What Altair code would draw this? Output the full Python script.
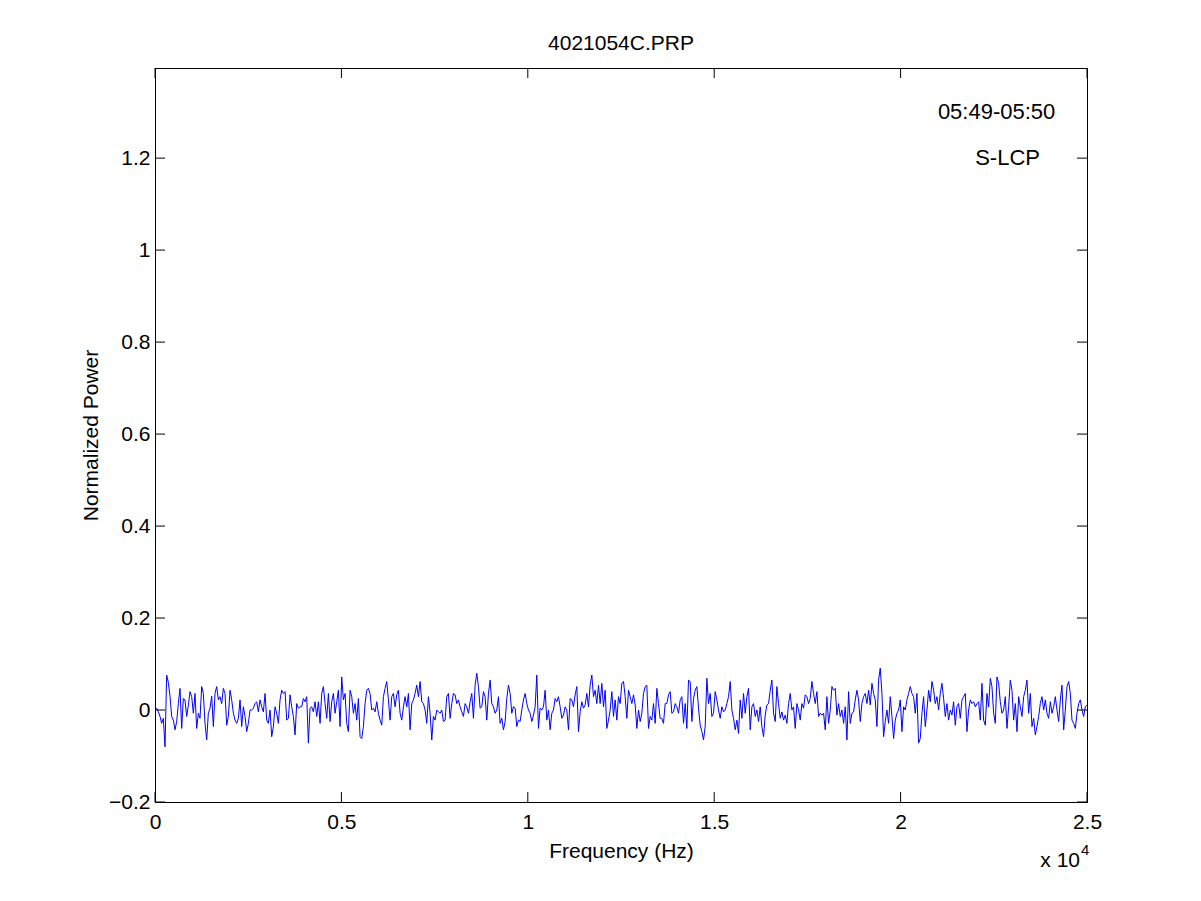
import altair as alt
import numpy as np
import pandas as pd

# Normalized power, left to right (six consecutive segments)
seg1 = [0.000, 0.004, -0.004, -0.014, -0.029, -0.018, -0.080, 0.076, 0.060, 0.030,
        -0.014, -0.022, -0.043, -0.025, 0.014, 0.047, -0.040, 0.025, 0.022, -0.014,
        0.010, 0.040, 0.029, -0.007, 0.036, -0.040, -0.007, -0.018, 0.051, 0.036,
        -0.029, -0.065, -0.007, 0.004, 0.030, -0.036, 0.036, 0.051, 0.022, 0.029,
        0.014, 0.047, 0.036, -0.033, -0.014, 0.043, 0.022, -0.007, -0.022, -0.029,
        -0.018, 0.022, -0.036, 0.007, -0.014, -0.047, -0.029, 0.000, 0.000, 0.004,
        0.014, 0.018, -0.004, 0.022, 0.007, -0.004, 0.036, -0.022, -0.029, 0.000,
        -0.058, -0.036, 0.007, -0.007, -0.029, 0.022, 0.043, 0.036, 0.040, -0.022,
        -0.018, 0.033, 0.007, -0.014, -0.054, 0.014, 0.004, 0.007, 0.007, 0.025,
        0.018, 0.029, -0.072]
seg2 = [0.004, 0.007, -0.004, 0.018, -0.014, 0.018, -0.029, 0.036, 0.051, 0.014,
        -0.018, 0.036, -0.025, 0.018, 0.036, -0.007, 0.018, 0.043, -0.036, 0.072,
        0.022, 0.036, -0.029, -0.047, 0.043, 0.029, -0.007, 0.014, -0.022, 0.025,
        -0.058, -0.062, -0.036, 0.014, 0.043, 0.047, 0.036, 0.000, 0.004, -0.004,
        0.018, -0.007, -0.022, -0.033, 0.029, 0.047, 0.062, 0.022, -0.022, 0.029,
        0.036, 0.007, 0.033, 0.043, -0.007, -0.022, 0.007, 0.029, 0.007, 0.036,
        -0.043, 0.014, 0.022, 0.036, 0.054, 0.029, 0.062, 0.018, 0.014, 0.000,
        -0.029, 0.029, -0.007, -0.065, -0.014, -0.022, 0.000, -0.004, -0.007, 0.000,
        -0.025, -0.022, 0.029, 0.036, -0.018, 0.014, 0.036, 0.033, 0.014, 0.022,
        0.007, -0.004, -0.014]
seg3 = [0.014, 0.007, -0.007, 0.018, 0.036, -0.018, 0.054, 0.080, 0.051, 0.004,
        0.007, 0.040, 0.029, -0.022, 0.036, 0.065, 0.014, 0.007, -0.007, 0.000,
        0.029, -0.029, -0.018, -0.043, -0.025, 0.025, 0.054, 0.036, -0.007, 0.007,
        0.004, -0.036, -0.022, -0.025, 0.000, 0.022, 0.036, 0.014, 0.000, -0.007,
        -0.025, -0.011, 0.007, 0.076, -0.040, 0.004, 0.000, 0.007, 0.043, -0.022,
        0.000, -0.043, -0.007, 0.000, 0.025, 0.018, 0.029, 0.007, -0.018, -0.011,
        0.007, 0.000, -0.043, 0.025, 0.022, 0.007, 0.033, 0.051, -0.047, -0.004,
        0.018, 0.004, 0.011, 0.036, 0.007, 0.054, 0.076, 0.029, 0.043, 0.014,
        0.054, 0.014, 0.058, 0.007, 0.043, -0.040, -0.022, 0.000, 0.040, -0.014,
        0.022, -0.022, 0.029]
seg4 = [0.014, 0.058, 0.062, 0.029, -0.018, 0.043, 0.029, 0.014, 0.033, 0.011,
        -0.040, 0.000, -0.025, -0.007, 0.036, 0.051, 0.054, -0.040, -0.014, -0.022,
        0.014, -0.029, 0.047, 0.014, -0.018, -0.018, -0.029, 0.014, 0.014, 0.033,
        0.040, -0.007, -0.004, 0.014, 0.007, -0.007, 0.022, 0.029, -0.029, 0.014,
        -0.040, 0.065, 0.062, -0.025, 0.025, 0.043, 0.051, 0.004, -0.033, -0.047,
        -0.065, -0.036, 0.069, 0.014, 0.036, -0.014, -0.007, 0.040, 0.022, 0.000,
        -0.018, 0.007, -0.004, 0.000, 0.014, 0.029, 0.062, 0.000, -0.018, -0.043,
        -0.022, -0.051, 0.022, -0.018, 0.036, -0.007, 0.029, 0.047, -0.043, 0.007,
        0.014, -0.014, 0.000, -0.025, 0.007, -0.036, -0.058, -0.011, 0.011, 0.014,
        0.043, 0.065, -0.007]
seg5 = [-0.025, 0.051, 0.014, -0.018, -0.004, -0.022, -0.011, -0.029, 0.014, 0.036,
        0.000, 0.007, -0.040, 0.014, 0.000, -0.022, 0.014, 0.004, 0.033, 0.029,
        0.014, 0.025, 0.062, 0.036, 0.014, 0.040, -0.014, -0.007, -0.011, -0.007,
        -0.043, 0.029, -0.029, 0.000, 0.051, 0.043, 0.047, -0.011, 0.014, -0.014,
        0.000, -0.029, 0.007, -0.065, 0.040, -0.029, -0.007, -0.004, 0.022, 0.043,
        0.022, -0.025, 0.014, 0.029, 0.036, 0.014, 0.043, 0.011, 0.058, 0.036,
        0.022, -0.036, 0.065, 0.091, 0.036, -0.058, -0.025, 0.000, -0.029, 0.029,
        -0.014, -0.062, -0.022, -0.007, 0.000, 0.022, -0.047, 0.007, 0.000, 0.022,
        0.036, 0.051, 0.036, 0.029, -0.007, 0.036, -0.072, -0.062, -0.007, 0.029,
        -0.036, 0.000, 0.043]
seg6 = [0.018, 0.062, 0.043, 0.014, 0.029, 0.000, 0.036, 0.058, 0.025, -0.014,
        0.014, -0.022, 0.000, -0.011, 0.018, -0.033, 0.007, 0.014, -0.018, 0.022,
        0.029, 0.036, -0.047, 0.000, 0.022, 0.014, 0.018, 0.007, 0.014, 0.018,
        -0.022, 0.058, -0.022, -0.033, 0.036, 0.007, 0.069, 0.051, -0.007, -0.029,
        0.072, 0.058, 0.018, -0.007, 0.000, 0.029, -0.040, 0.007, 0.065, 0.043,
        -0.022, 0.014, -0.047, 0.029, 0.007, -0.014, 0.029, 0.043, 0.065, -0.007,
        0.036, -0.036, -0.018, -0.054, -0.036, -0.014, 0.014, 0.029, 0.000, 0.022,
        -0.007, -0.018, 0.018, -0.007, 0.007, 0.029, 0.000, -0.025, 0.022, 0.054,
        -0.043, 0.000, 0.051, 0.062, 0.036, -0.022, -0.029, -0.040, -0.007, 0.014,
        0.022, 0.000, -0.014, 0.007, 0.011]

power = seg1 + seg2 + seg3 + seg4 + seg5 + seg6
freq = np.linspace(0, 25000, len(power))

x_ticks = [0, 5000, 10000, 15000, 20000, 25000]
y_ticks = [-0.2, 0, 0.2, 0.4, 0.6, 0.8, 1.0, 1.2]

notes_text = ["05:49-05:50", "S-LCP"]
notes_x = [21000, 22000]
notes_y = [1.3, 1.2]

FONT = "Liberation Sans"
FS = 21
W, H = 932, 734
TICK = 10

df = pd.DataFrame({"f": freq, "p": power})
xt = pd.DataFrame({"v": x_ticks})
yt = pd.DataFrame({"v": y_ticks})
notes = pd.DataFrame({"t": notes_text, "x": notes_x, "y": notes_y})

xscale = alt.Scale(domain=[0, 25000], nice=False, zero=False)
yscale = alt.Scale(domain=[-0.2, 1.396], nice=False, zero=False)

line = alt.Chart(df).mark_line(color="#0000FF", strokeWidth=1, clip=True).encode(
    x=alt.X("f:Q", scale=xscale, title="Frequency (Hz)",
            axis=alt.Axis(values=x_ticks, labelExpr="format(datum.value/10000, '.1~f')",
                          tickSize=0, labelPadding=9, titlePadding=8, grid=False,
                          labelFlush=False, labelFont=FONT, labelFontSize=FS,
                          labelColor="black", titleFont=FONT, titleFontSize=FS,
                          titleFontWeight="normal", titleColor="black",
                          domainColor="black", domainWidth=1)),
    y=alt.Y("p:Q", scale=yscale, title="Normalized Power",
            axis=alt.Axis(values=y_ticks, format=".1~f", tickSize=0, labelPadding=5,
                          titlePadding=7, grid=False, labelFlush=False,
                          labelFont=FONT, labelFontSize=FS, labelColor="black",
                          titleFont=FONT, titleFontSize=FS, titleFontWeight="normal",
                          titleColor="black", domainColor="black", domainWidth=1)),
)

ytick_left = alt.Chart(yt).mark_rule(color="black", strokeWidth=1).encode(
    y=alt.Y("v:Q", scale=yscale), x=alt.value(0), x2=alt.value(TICK))
ytick_right = alt.Chart(yt).mark_rule(color="black", strokeWidth=1).encode(
    y=alt.Y("v:Q", scale=yscale), x=alt.value(W - TICK), x2=alt.value(W))
xtick_bottom = alt.Chart(xt).mark_rule(color="black", strokeWidth=1).encode(
    x=alt.X("v:Q", scale=xscale), y=alt.value(H), y2=alt.value(H - TICK))
xtick_top = alt.Chart(xt).mark_rule(color="black", strokeWidth=1).encode(
    x=alt.X("v:Q", scale=xscale), y=alt.value(0), y2=alt.value(TICK))

note_marks = alt.Chart(notes).mark_text(font=FONT, fontSize=22, align="left",
                                        baseline="middle", color="black").encode(
    x=alt.X("x:Q", scale=xscale), y=alt.Y("y:Q", scale=yscale), text="t:N")

exp_base = alt.Chart(pd.DataFrame({"t": ["x 10"]})).mark_text(
    font=FONT, fontSize=FS, align="right", baseline="alphabetic", color="black").encode(
    x=alt.value(W - 7), y=alt.value(H + 65), text="t:N")
exp_pow = alt.Chart(pd.DataFrame({"t": ["4"]})).mark_text(
    font=FONT, fontSize=15, align="left", baseline="alphabetic", color="black").encode(
    x=alt.value(W - 6), y=alt.value(H + 53), text="t:N")

chart = alt.layer(line, ytick_left, ytick_right, xtick_bottom, xtick_top,
                  note_marks, exp_base, exp_pow).properties(
    width=W, height=H,
    background="white",
    title=alt.TitleParams("4021054C.PRP", font=FONT, fontSize=FS, fontWeight="normal",
                          color="black", anchor="middle", offset=14),
    autosize=alt.AutoSizeParams(type="none"),
    padding={"left": 147, "top": 60, "right": 100, "bottom": 90},
).configure_view(stroke="black", strokeWidth=1)

chart.save("out.html", embed_options={"renderer": "svg", "actions": False})
